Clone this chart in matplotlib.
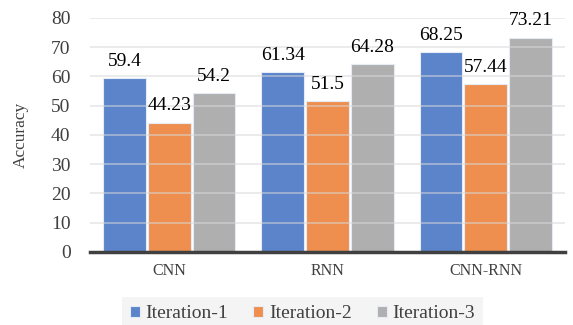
import numpy as np
import matplotlib
matplotlib.use("Agg")
import matplotlib.pyplot as plt

plt.rcParams['font.family'] = 'serif'
plt.rcParams['font.serif'] = ['Liberation Serif', 'DejaVu Serif']

models = ['CNN', 'RNN', 'CNN-RNN']
iteration_1 = [59.4, 61.34, 68.25]
iteration_2 = [44.23, 51.5, 57.44]
iteration_3 = [54.2, 64.28, 73.21]
series_names = ['Iteration-1', 'Iteration-2', 'Iteration-3']
colors = ['#5b84cb', '#ef8f4f', '#afafaf']

fig = plt.figure(figsize=(5.73, 3.25), dpi=100)
ax = fig.add_axes([0.157, 0.225, 0.829, 0.72])

x = np.arange(len(models))
width = 0.27
step = 0.283
for k, (vals, name, col) in enumerate(zip([iteration_1, iteration_2, iteration_3], series_names, colors)):
    bars = ax.bar(x + (k - 1) * step, vals, width, color=col, edgecolor='#e6ecf5',
                  linewidth=0.8, label=name, zorder=1)
    for b, v in zip(bars, vals):
        ax.annotate(f'{v:g}', (b.get_x() + b.get_width() / 2, v), xytext=(0, 6),
                    textcoords='offset points', ha='center', va='bottom', fontsize=14)

ax.set_ylim(0, 80)
ax.set_xlim(-0.5, 2.5)
ax.set_yticks(range(0, 81, 10))
ax.set_xticks(x)
ax.set_xticklabels(models, fontsize=11.5)
ax.tick_params(axis='y', labelsize=14, length=0, pad=14, colors='#404040')
ax.tick_params(axis='x', length=0, pad=8, colors='#404040')
ax.yaxis.grid(True, color='#d9d9d9', linewidth=1.2, alpha=0.6)
ax.set_axisbelow(False)
for s in ['top', 'right', 'left']:
    ax.spines[s].set_visible(False)
ax.spines['bottom'].set_color('#404040')
ax.spines['bottom'].set_linewidth(2.5)
ax.spines['bottom'].set_zorder(4)
ax.set_ylabel('Accuracy', fontsize=12.5, labelpad=16, color='#404040')

leg = fig.legend(loc='center', bbox_to_anchor=(0.528, 0.035), ncol=3, frameon=True,
                 prop={'family': 'serif', 'size': 14}, handlelength=0.5, handleheight=0.5,
                 handletextpad=0.3, columnspacing=1.3, fancybox=False, borderpad=0.4,
                 borderaxespad=0)
leg.get_frame().set_facecolor('#f2f2f2')
leg.get_frame().set_edgecolor('none')
for t in leg.get_texts():
    t.set_color('#404040')

fig.savefig('out.png', dpi=100)
